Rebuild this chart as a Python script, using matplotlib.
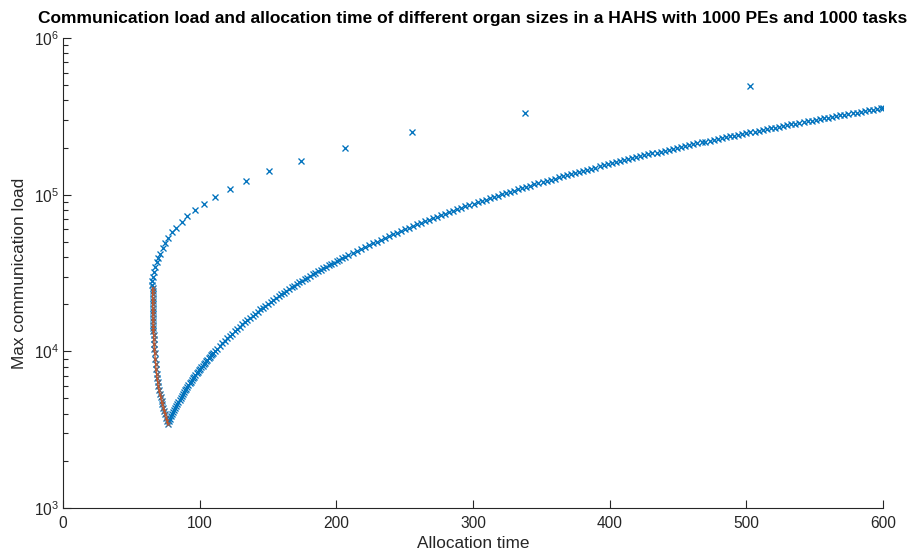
import matplotlib
matplotlib.use("Agg")
import matplotlib.pyplot as plt
from matplotlib.ticker import LogLocator, NullFormatter

plt.rcParams['font.family'] = ['Liberation Sans', 'DejaVu Sans']
plt.rcParams['mathtext.fontset'] = 'custom'
plt.rcParams['mathtext.rm'] = 'Liberation Sans'

# Small organ sizes: long allocation time, high load
upper_time = [503, 338, 255, 206, 174, 151, 134, 122, 111, 103, 96.8, 90.9, 87, 82.9,
              80, 76.8, 74.8, 72.9, 71.2, 69.7, 68.5, 67.3, 66.6, 65.8, 65.3, 65.1]
upper_load = [494000, 332000, 251000, 200000, 165000, 141000, 123000, 108700, 97000,
              87700, 79800, 72800, 67000, 61700, 57400, 53100, 49300, 46000, 42000,
              39600, 37000, 34600, 32000, 30000, 28200, 26600]

# Pareto-optimal organ sizes (min time -> min load)
pareto_time = [65.6, 65.6, 65.6, 65.6, 65.7, 65.7, 65.7, 65.8, 65.8, 65.9, 65.9, 66.0,
               66.1, 66.2, 66.3, 66.5, 66.7, 66.9, 67.2, 67.5, 67.8, 68.1, 68.5, 68.9,
               69.3, 69.8, 70.3, 70.9, 71.5, 72.1, 72.8, 73.5, 74.2, 74.9, 75.6, 76.2, 76.8]
pareto_load = [25300, 24200, 23100, 22000, 21000, 20000, 19000, 18100, 17200, 16400,
               15600, 14800, 14100, 13400, 12800, 12000, 11200, 10400, 9700, 9000, 8300,
               7700, 7200, 6750, 6350, 5980, 5650, 5350, 5080, 4830, 4600, 4370, 4160,
               3960, 3780, 3600, 3420]

# Large organ sizes: load grows again with allocation time
lower_time = [
    77.7, 78.4, 79.1, 79.9, 80.6, 81.4, 82.2, 82.9, 83.7, 84.5, 85.3, 86.1, 86.9, 87.7,
    88.5, 89.3, 90.2, 91.0, 91.8, 92.7, 93.5, 94.4, 95.2, 96.1, 96.9, 97.8, 98.6, 99.5,
    100.4, 101.2, 102.1, 103.0, 103.9, 104.8, 105.6, 106.5, 107.4, 108.3, 109.2, 110.1,
    111.0, 112.8, 114.6, 116.4, 118.3, 120.1, 121.9, 123.8, 125.6, 127.5, 129.3, 131.2,
    133.1, 134.9, 136.8, 138.7, 140.6, 142.5, 144.4, 146.2, 148.1, 150.0, 151.9, 153.8,
    155.8, 157.7, 159.6, 161.5, 163.4, 165.3, 167.3, 169.2, 171.1, 173.0, 175.0, 176.9,
    178.8, 180.7, 182.7, 184.6, 186.6, 188.5, 190.4, 192.4, 194.3, 196.3, 198.2, 200.2,
    202.1, 204.1, 206.0, 208.9, 211.9, 214.8, 217.7, 220.7, 223.6, 226.5, 229.5, 232.4,
    235.3, 238.3, 241.2, 244.2, 247.1, 250.1, 253.0, 256.0, 258.9, 261.9, 264.8, 267.8,
    270.8, 273.7, 276.7, 279.6, 282.6, 285.6, 288.5, 291.5, 294.4, 297.4, 300.4, 303.3,
    306.3, 309.3, 312.2, 315.2, 318.2, 321.2, 324.1, 327.1, 330.1, 333.0, 336.0, 339.0,
    342.0, 344.9, 347.9, 350.9, 353.9, 356.8, 359.8, 362.8, 365.8, 368.7, 371.7, 374.7,
    377.7, 380.7, 383.6, 386.6, 389.6, 392.6, 395.6, 398.5, 401.5, 404.5, 407.5, 410.5,
    413.4, 416.4, 419.4, 422.4, 425.4, 428.4, 431.3, 434.3, 437.3, 440.3, 443.3, 446.3,
    449.2, 452.2, 455.2, 458.2, 461.2, 464.2, 467.2, 470.1, 473.1, 476.1, 479.1, 482.1,
    485.1, 488.1, 491.0, 494.0, 497.0, 500.0, 503.0, 506.0, 509.0, 512.0, 515.0, 517.9,
    520.9, 523.9, 526.9, 529.9, 532.9, 535.9, 538.9, 541.9, 544.8, 547.8, 550.8, 553.8,
    556.8, 559.8, 562.8, 565.8, 568.8, 571.8, 574.7, 577.7, 580.7, 583.7, 586.7, 589.7,
    592.7, 595.7, 598.7, 599.7]
lower_load = [
    3600, 3721, 3844, 3969, 4096, 4225, 4356, 4489, 4624, 4761, 4900, 5041, 5184, 5329,
    5476, 5625, 5776, 5929, 6084, 6241, 6400, 6561, 6724, 6889, 7056, 7225, 7396, 7569,
    7744, 7921, 8100, 8281, 8464, 8649, 8836, 9025, 9216, 9409, 9604, 9801,
    10000, 10404, 10816, 11236, 11664, 12100, 12544, 12996, 13456, 13924, 14400, 14884,
    15376, 15876, 16384, 16900, 17424, 17956, 18496, 19044, 19600, 20164, 20736, 21316,
    21904, 22500, 23104, 23716, 24336, 24964, 25600, 26244, 26896, 27556, 28224, 28900,
    29584, 30276, 30976, 31684, 32400, 33124, 33856, 34596, 35344, 36100, 36864, 37636,
    38416, 39204, 40000, 41209, 42436, 43681, 44944, 46225, 47524, 48841, 50176, 51529,
    52900, 54289, 55696, 57121, 58564, 60025, 61504, 63001, 64516, 66049, 67600, 69169,
    70756, 72361, 73984, 75625, 77284, 78961, 80656, 82369, 84100, 85849, 87616, 89401,
    91204, 93025, 94864, 96721, 98596, 100489, 102400, 104329, 106276, 108241, 110224,
    112225, 114244, 116281, 118336, 120409, 122500, 124609, 126736, 128881, 131044,
    133225, 135424, 137641, 139876, 142129, 144400, 146689, 148996, 151321, 153664,
    156025, 158404, 160801, 163216, 165649, 168100, 170569, 173056, 175561, 178084,
    180625, 183184, 185761, 188356, 190969, 193600, 196249, 198916, 201601, 204304,
    207025, 209764, 212521, 215296, 218089, 220900, 223729, 226576, 229441, 232324,
    235225, 238144, 241081, 244036, 247009, 250000, 253009, 256036, 259081, 262144,
    265225, 268324, 271441, 274576, 277729, 280900, 284089, 287296, 290521, 293764,
    297025, 300304, 303601, 306916, 310249, 313600, 316969, 320356, 323761, 327184,
    330625, 334084, 337561, 341056, 344569, 348100, 351649, 355216, 356409]

x_ticks = [0, 100, 200, 300, 400, 500, 600]

BLUE = '#0072BD'
ORANGE = '#D95319'
AXC = '#262626'

fig = plt.figure(figsize=(9.09, 5.57), dpi=100)
ax = fig.add_axes([63 / 909, 49 / 557, 820 / 909, 470 / 557])

mk = dict(linestyle='none', marker='x', markersize=3.7, markeredgewidth=0.95,
          color=BLUE, zorder=2)
ax.plot(upper_time, upper_load, **mk)
ax.plot(pareto_time, pareto_load, **mk)
ax.plot(lower_time, lower_load, **mk)

# Pareto front traced on top of the scatter
ax.plot(pareto_time, pareto_load, linestyle='-', linewidth=1.0, marker='x',
        markersize=2.2, markeredgewidth=0.6, color=ORANGE, alpha=0.85, zorder=3)

ax.set_yscale('log')
ax.set_xlim(0, 600)
ax.set_ylim(1e3, 1e6)
ax.set_xticks(x_ticks)
ax.yaxis.set_major_locator(LogLocator(base=10, numticks=10))
ax.yaxis.set_minor_locator(LogLocator(base=10, subs=range(2, 10), numticks=20))
ax.yaxis.set_minor_formatter(NullFormatter())

for s in ['top', 'right']:
    ax.spines[s].set_visible(False)
for s in ['left', 'bottom']:
    ax.spines[s].set_color(AXC)
    ax.spines[s].set_linewidth(0.8)

ax.tick_params(axis='x', which='major', direction='in', length=6, width=0.8,
               colors=AXC, labelsize=11.2, pad=6)
ax.tick_params(axis='y', which='major', direction='in', length=6, width=0.8,
               colors=AXC, labelsize=11.2, pad=3)
ax.tick_params(axis='y', which='minor', direction='in', length=3.5, width=0.8, colors=AXC)

ax.set_xlabel('Allocation time', fontsize=12.4, color=AXC, labelpad=3)
ax.set_ylabel('Max communication load', fontsize=12.4, color=AXC, labelpad=5)
ax.set_title('Communication load and allocation time of different organ sizes in a HAHS '
             'with 1000 PEs and 1000 tasks', fontsize=12.5, fontweight='bold', pad=11)

fig.savefig('out.png', dpi=100)
